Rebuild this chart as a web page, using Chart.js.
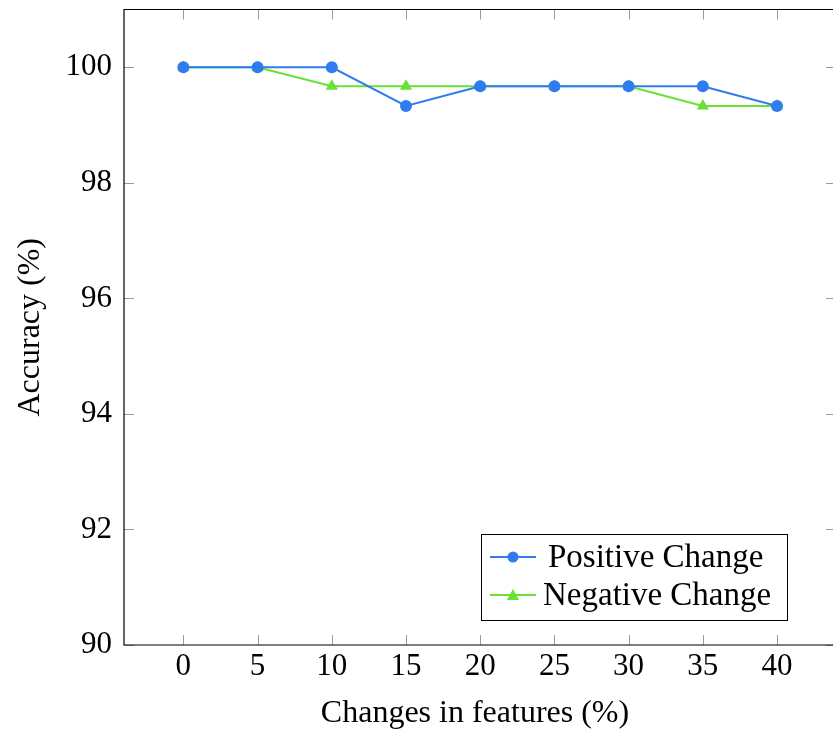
<!DOCTYPE html>
<html lang="en">
<head>
    <meta charset="UTF-8">
    <title>Accuracy vs feature changes</title>
    <script src="https://cdn.jsdelivr.net/npm/chart.js"></script>
    <style>
        html, body { margin: 0; padding: 0; background: #fff; overflow: hidden; }
        .chart-wrap { width: 833px; height: 734px; }
    </style>
</head>
<body>
    <div class="chart-wrap">
        <canvas id="accChart" width="833" height="734"></canvas>
    </div>

    <script>
        // data
        const changes = [0, 5, 10, 15, 20, 25, 30, 35, 40];
        const positiveChange = [100, 100, 100, 99.33, 99.67, 99.67, 99.67, 99.67, 99.33];
        const negativeChange = [100, 100, 99.67, 99.67, 99.67, 99.67, 99.67, 99.33, 99.33];
        const xTicks = [0, 5, 10, 15, 20, 25, 30, 35, 40];
        const yTicks = [90, 92, 94, 96, 98, 100];

        const serif = "'Liberation Serif', 'DejaVu Serif', serif";
        const blue = '#2f7cf0';
        const green = '#68e034';

        // inner tick marks on all four sides plus the frame
        // (the right edge of the frame falls just outside the picture)
        const frameTicks = {
            id: 'frameTicks',
            afterDatasetsDraw(chart) {
                const { ctx, chartArea: a, scales } = chart;
                const len = 10;
                const edge = chart.width;
                ctx.save();
                ctx.strokeStyle = '#9a9a9a';
                ctx.lineWidth = 1;
                ctx.beginPath();
                xTicks.forEach(v => {
                    const x = Math.round(scales.x.getPixelForValue(v)) + 0.5;
                    ctx.moveTo(x, a.bottom); ctx.lineTo(x, a.bottom - len);
                    ctx.moveTo(x, a.top); ctx.lineTo(x, a.top + len);
                });
                yTicks.forEach(v => {
                    const y = Math.round(scales.y.getPixelForValue(v)) + 0.5;
                    ctx.moveTo(a.left, y); ctx.lineTo(a.left + len, y);
                    ctx.moveTo(edge, y); ctx.lineTo(edge - len + 3, y);
                });
                ctx.stroke();
                ctx.strokeStyle = '#000';
                ctx.lineWidth = 1.2;
                ctx.beginPath();
                ctx.moveTo(edge, a.top);
                ctx.lineTo(a.left, a.top);
                ctx.lineTo(a.left, a.bottom);
                ctx.lineTo(edge, a.bottom);
                ctx.stroke();
                ctx.restore();
            }
        };

        // boxed legend in the lower right corner of the plot
        const boxLegend = {
            id: 'boxLegend',
            afterDraw(chart) {
                const { ctx } = chart;
                const bx = 481, by = 534, bw = 306, bh = 86;
                ctx.save();
                ctx.fillStyle = '#fff';
                ctx.fillRect(bx, by, bw, bh);
                ctx.strokeStyle = '#000';
                ctx.lineWidth = 1;
                ctx.strokeRect(bx + 0.5, by + 0.5, bw, bh);
                ctx.font = '33px ' + serif;
                ctx.textBaseline = 'middle';
                chart.data.datasets.forEach((ds, i) => {
                    const y = by + 23 + i * 38;
                    ctx.strokeStyle = ds.borderColor;
                    ctx.lineWidth = 2;
                    ctx.beginPath();
                    ctx.moveTo(bx + 9, y); ctx.lineTo(bx + 55, y);
                    ctx.stroke();
                    ctx.fillStyle = ds.backgroundColor;
                    ctx.beginPath();
                    if (ds.pointStyle === 'triangle') {
                        ctx.moveTo(bx + 32, y - 6); ctx.lineTo(bx + 38, y + 5); ctx.lineTo(bx + 26, y + 5);
                        ctx.closePath();
                    } else {
                        ctx.arc(bx + 32, y, 5.5, 0, Math.PI * 2);
                    }
                    ctx.fill();
                    ctx.fillStyle = '#000';
                    ctx.fillText(ds.label, bx + 62 + (i === 0 ? 5 : 0), y + 1);
                });
                ctx.restore();
            }
        };

        new Chart(document.getElementById('accChart'), {
            type: 'line',
            data: {
                datasets: [{
                    label: 'Positive Change',
                    data: changes.map((c, i) => ({ x: c, y: positiveChange[i] })),
                    borderColor: blue,
                    backgroundColor: blue,
                    borderWidth: 2,
                    pointStyle: 'circle',
                    pointRadius: 6,
                    pointBorderWidth: 0,
                    tension: 0
                }, {
                    label: 'Negative Change',
                    data: changes.map((c, i) => ({ x: c, y: negativeChange[i] })),
                    borderColor: green,
                    backgroundColor: green,
                    borderWidth: 2,
                    pointStyle: 'triangle',
                    pointRadius: 7,
                    pointBorderWidth: 0,
                    tension: 0
                }]
            },
            options: {
                responsive: false,
                animation: false,
                layout: { padding: { top: 9.5, right: 0, left: 0, bottom: 0 } },
                plugins: {
                    legend: { display: false },
                    tooltip: { enabled: false }
                },
                scales: {
                    x: {
                        type: 'linear',
                        min: -4,
                        max: 43.3,
                        afterBuildTicks: s => { s.ticks = xTicks.map(v => ({ value: v })); },
                        afterFit: s => { s.height = 89; s.paddingLeft = 0; s.paddingRight = 0; },
                        grid: { display: false },
                        border: { display: false },
                        ticks: { color: '#000', font: { family: serif, size: 31 }, padding: -5 },
                        title: {
                            display: true,
                            text: 'Changes in features (%)',
                            color: '#000',
                            font: { family: serif, size: 32 },
                            padding: { top: 0, bottom: 1 }
                        }
                    },
                    y: {
                        min: 90,
                        max: 101,
                        afterBuildTicks: s => { s.ticks = yTicks.map(v => ({ value: v })); },
                        afterFit: s => { s.width = 124; s.paddingTop = 0; s.paddingBottom = 0; },
                        grid: { display: false },
                        border: { display: false },
                        ticks: { color: '#000', font: { family: serif, size: 31 }, padding: 4 },
                        title: {
                            display: true,
                            text: 'Accuracy (%)',
                            color: '#000',
                            font: { family: serif, size: 32 },
                            padding: { top: 11, bottom: 0 }
                        }
                    }
                }
            },
            plugins: [frameTicks, boxLegend]
        });
    </script>
</body>
</html>
